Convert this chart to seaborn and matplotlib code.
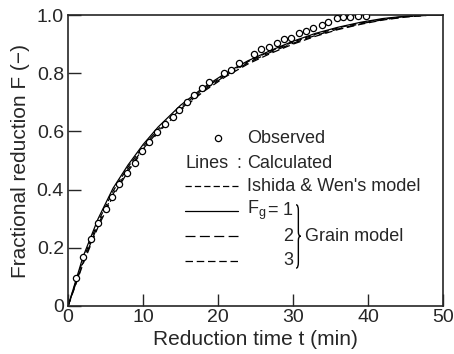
import numpy as np
import pandas as pd
import matplotlib
matplotlib.use("Agg")
import matplotlib.pyplot as plt
import seaborn as sns
from matplotlib.path import Path
from matplotlib.patches import PathPatch

# observed points (t in min, F)
t_obs = [1.0, 2.0, 3.0, 4.0, 5.0, 5.8, 6.8, 7.9, 8.9, 9.9, 10.8, 11.9, 12.9, 14.0,
         14.8, 15.8, 16.8, 17.8, 18.8, 20.8, 21.7, 22.8, 24.8, 25.7, 26.8, 27.8,
         28.8, 29.7, 30.8, 31.7, 32.7, 33.8, 34.7, 35.8, 36.7, 37.6, 38.7, 39.7]
f_obs = [0.095, 0.167, 0.23, 0.286, 0.332, 0.376, 0.42, 0.456, 0.49, 0.532, 0.563,
         0.597, 0.625, 0.65, 0.673, 0.702, 0.725, 0.748, 0.771, 0.80, 0.81, 0.834,
         0.865, 0.882, 0.891, 0.905, 0.916, 0.92, 0.937, 0.946, 0.954, 0.966, 0.977,
         0.989, 0.994, 0.994, 0.995, 0.995]

# calculated curves
t_calc = [0, 2, 4, 6, 8, 10, 12, 15, 18, 21, 24, 27, 30, 33, 36, 39, 42, 45, 48, 50]
f_ishida = [0, 0.16, 0.29, 0.395, 0.478, 0.548, 0.607, 0.683, 0.745, 0.796, 0.84,
            0.876, 0.907, 0.934, 0.956, 0.973, 0.986, 0.995, 1.0, 1.0]
f_fg1 = [0, 0.17, 0.30, 0.405, 0.485, 0.555, 0.615, 0.69, 0.75, 0.80, 0.843,
         0.878, 0.91, 0.937, 0.958, 0.975, 0.988, 0.996, 1.0, 1.0]
f_fg2 = [0, 0.15, 0.28, 0.385, 0.47, 0.54, 0.60, 0.677, 0.74, 0.792, 0.836,
         0.872, 0.903, 0.93, 0.952, 0.97, 0.984, 0.994, 0.999, 1.0]
f_fg3 = [0, 0.145, 0.272, 0.378, 0.463, 0.535, 0.596, 0.673, 0.736, 0.788, 0.832,
         0.868, 0.90, 0.927, 0.95, 0.968, 0.983, 0.993, 0.999, 1.0]

x_ticks = [0, 10, 20, 30, 40, 50]
y_ticks = [0, 0.2, 0.4, 0.6, 0.8, 1.0]
y_ticklabels = ["0", "0.2", "0.4", "0.6", "0.8", "1.0"]

sns.set_style("ticks")
plt.rcParams['font.family'] = ['Liberation Sans', 'DejaVu Sans']
plt.rcParams['font.size'] = 13

fig = plt.figure(figsize=(4.54, 3.54), dpi=100)
ax = fig.add_axes([0.150, 0.1356, 0.826, 0.822])

styles = {
    'ishida': dict(ls=(0, (5, 2.5))),
    'fg1': dict(ls='-'),
    'fg2': dict(ls=(0, (8, 3.5))),
    'fg3': dict(ls=(0, (6, 3))),
}
curves = pd.DataFrame({'t': t_calc, 'ishida': f_ishida, 'fg1': f_fg1,
                       'fg2': f_fg2, 'fg3': f_fg3})
for key, st in styles.items():
    sns.lineplot(x=curves['t'], y=curves[key], ax=ax, color='black', lw=0.9,
                 linestyle=st['ls'], sort=False)

obs = pd.DataFrame({'t': t_obs, 'F': f_obs})
sns.scatterplot(data=obs, x='t', y='F', ax=ax, marker='o', s=20,
                facecolor='white', edgecolor='black', linewidth=0.9, zorder=5)

ax.set_xlim(0, 50)
ax.set_ylim(0, 1.0)
ax.set_xticks(x_ticks)
ax.set_yticks(y_ticks)
ax.set_yticklabels(y_ticklabels)
ax.tick_params(direction='in', length=9, width=1, labelsize=14)
ax.tick_params(axis='x', pad=2)
ax.tick_params(axis='y', pad=3)
for s in ax.spines.values():
    s.set_linewidth(1.2)
ax.set_xlabel('Reduction time t (min)', fontsize=15, labelpad=3)
ax.set_ylabel('Fractional reduction F (\u2212)', fontsize=15, labelpad=5)

# hand-drawn legend
fs = 13
ax.plot([20.0], [0.577], 'o', ms=4.5, mfc='white', mec='black', mew=0.9)
ax.text(23.9, 0.577, 'Observed', fontsize=fs, va='center')
ax.text(15.6, 0.49, 'Lines', fontsize=fs, va='center')
ax.text(22.4, 0.49, ':', fontsize=fs, va='center')
ax.text(23.9, 0.49, 'Calculated', fontsize=fs, va='center')
rows = [('ishida', 0.412), ('fg1', 0.328), ('fg2', 0.24), ('fg3', 0.155)]
for key, yy in rows:
    ax.plot([15.6, 22.6], [yy, yy], color='black', lw=0.9, linestyle=styles[key]['ls'])
ax.text(23.9, 0.412, "Ishida & Wen's model", fontsize=fs, va='center')
ax.text(23.9, 0.328, r'F$_{\mathregular{g}}$', fontsize=fs, va='center')
ax.text(26.6, 0.328, '=', fontsize=fs, va='center')
ax.text(30.0, 0.328, '1', fontsize=fs, va='center', ha='right')
ax.text(30.0, 0.24, '2', fontsize=fs, va='center', ha='right')
ax.text(30.0, 0.155, '3', fontsize=fs, va='center', ha='right')
ax.text(31.6, 0.24, 'Grain model', fontsize=fs, va='center')

# brace
x0, w = 30.4, 0.3
yt, yb, ym = 0.348, 0.13, 0.24
verts = [(x0, yt), (x0 + w, yt), (x0 + w, yt - 0.02), (x0 + w, ym + 0.015),
         (x0 + w, ym), (x0 + 2 * w, ym), (x0 + w, ym), (x0 + w, ym - 0.015),
         (x0 + w, yb + 0.02), (x0 + w, yb), (x0, yb)]
codes = [Path.MOVETO, Path.CURVE3, Path.CURVE3, Path.LINETO, Path.CURVE3, Path.CURVE3,
         Path.CURVE3, Path.CURVE3, Path.LINETO, Path.CURVE3, Path.CURVE3]
ax.add_patch(PathPatch(Path(verts, codes), fill=False, lw=1.0, color='black'))

fig.savefig('out.png', dpi=100)
